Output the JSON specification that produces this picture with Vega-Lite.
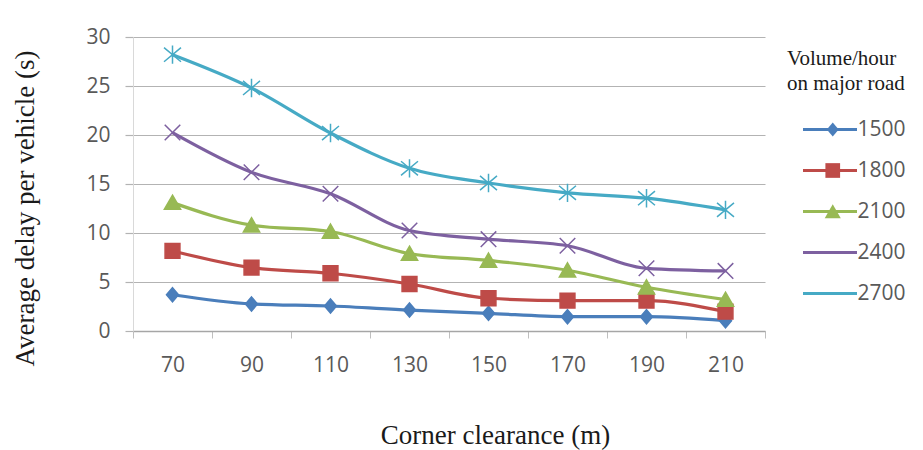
{
  "$schema": "https://vega.github.io/schema/vega-lite/v6.json",
  "width": 632,
  "height": 294,
  "autosize": {"type": "none"},
  "padding": {"left": 133, "top": 37, "right": 158, "bottom": 119},
  "background": "white",
  "config": {
    "view": {"stroke": null},
    "font": "Open Sans",
    "legend": {"titleFont": "Liberation Serif", "titleFontWeight": "normal", "titleFontSize": 21}
  },
  "data": {
    "values": [
      {"clearance": 70, "volume": "1500", "delay": 3.7},
      {"clearance": 90, "volume": "1500", "delay": 2.76},
      {"clearance": 110, "volume": "1500", "delay": 2.55},
      {"clearance": 130, "volume": "1500", "delay": 2.14},
      {"clearance": 150, "volume": "1500", "delay": 1.8},
      {"clearance": 170, "volume": "1500", "delay": 1.46},
      {"clearance": 190, "volume": "1500", "delay": 1.46},
      {"clearance": 210, "volume": "1500", "delay": 1.05},
      {"clearance": 70, "volume": "1800", "delay": 8.17},
      {"clearance": 90, "volume": "1800", "delay": 6.47},
      {"clearance": 110, "volume": "1800", "delay": 5.89},
      {"clearance": 130, "volume": "1800", "delay": 4.8},
      {"clearance": 150, "volume": "1800", "delay": 3.34},
      {"clearance": 170, "volume": "1800", "delay": 3.1},
      {"clearance": 190, "volume": "1800", "delay": 3.1},
      {"clearance": 210, "volume": "1800", "delay": 1.97},
      {"clearance": 70, "volume": "2100", "delay": 13.1},
      {"clearance": 90, "volume": "2100", "delay": 10.8},
      {"clearance": 110, "volume": "2100", "delay": 10.15},
      {"clearance": 130, "volume": "2100", "delay": 7.9},
      {"clearance": 150, "volume": "2100", "delay": 7.2},
      {"clearance": 170, "volume": "2100", "delay": 6.2},
      {"clearance": 190, "volume": "2100", "delay": 4.46},
      {"clearance": 210, "volume": "2100", "delay": 3.2},
      {"clearance": 70, "volume": "2400", "delay": 20.25},
      {"clearance": 90, "volume": "2400", "delay": 16.2},
      {"clearance": 110, "volume": "2400", "delay": 14.0},
      {"clearance": 130, "volume": "2400", "delay": 10.25},
      {"clearance": 150, "volume": "2400", "delay": 9.37},
      {"clearance": 170, "volume": "2400", "delay": 8.7},
      {"clearance": 190, "volume": "2400", "delay": 6.4},
      {"clearance": 210, "volume": "2400", "delay": 6.13},
      {"clearance": 70, "volume": "2700", "delay": 28.2},
      {"clearance": 90, "volume": "2700", "delay": 24.8},
      {"clearance": 110, "volume": "2700", "delay": 20.2},
      {"clearance": 130, "volume": "2700", "delay": 16.6},
      {"clearance": 150, "volume": "2700", "delay": 15.1},
      {"clearance": 170, "volume": "2700", "delay": 14.1},
      {"clearance": 190, "volume": "2700", "delay": 13.55},
      {"clearance": 210, "volume": "2700", "delay": 12.36}
    ]
  },
  "encoding": {
    "x": {
      "field": "clearance",
      "type": "ordinal",
      "bandPosition": 0.5,
      "scale": {"type": "band", "paddingInner": 0, "paddingOuter": 0},
      "axis": {
        "labelAngle": 0,
        "tickBand": "extent",
        "ticks": true,
        "tickSize": 7,
        "tickColor": "#bfbfbf",
        "domainColor": "#a6a6a6",
        "domainWidth": 1.5,
        "grid": false,
        "labelFont": "Open Sans",
        "labelFontSize": 21,
        "labelColor": "#595959",
        "labelPadding": 16,
        "title": "Corner clearance (m)",
        "titleFont": "Liberation Serif",
        "titleFontSize": 27,
        "titleFontWeight": "normal",
        "titleColor": "#1a1a1a",
        "titleX": 362,
        "titleY": 112,
        "titleAlign": "center",
        "titleBaseline": "alphabetic"
      }
    },
    "y": {
      "field": "delay",
      "type": "quantitative",
      "scale": {"domain": [0, 30], "nice": false},
      "axis": {
        "values": [0, 5, 10, 15, 20, 25, 30],
        "grid": true,
        "gridColor": "#b3b3b3",
        "gridWidth": 1.2,
        "tickSize": 8,
        "tickColor": "#b3b3b3",
        "tickWidth": 1.2,
        "domainColor": "#d9d9d9",
        "labelFont": "Open Sans",
        "labelFontSize": 21,
        "labelColor": "#595959",
        "labelPadding": 15,
        "title": "Average delay per vehicle (s)",
        "titleFont": "Liberation Serif",
        "titleFontSize": 27,
        "titleFontWeight": "normal",
        "titleColor": "#1a1a1a",
        "titleAngle": -90,
        "titleX": -100,
        "titleY": 171,
        "titleAlign": "center",
        "titleBaseline": "alphabetic"
      }
    }
  },
  "layer": [
    {
      "mark": {"type": "line", "strokeWidth": 3.2, "interpolate": "monotone"},
      "encoding": {
        "color": {
          "field": "volume",
          "type": "nominal",
          "scale": {
            "domain": ["1500", "1800", "2100", "2400", "2700"],
            "range": ["#4a7ebb", "#be4b48", "#98b954", "#7d60a0", "#46aac5"]
          },
          "legend": {
            "orient": "none",
            "legendX": 654,
            "legendY": 11,
            "padding": 0,
            "title": ["Volume/hour", "on major road"],
            "titleFont": "Liberation Serif",
            "titleFontSize": 21,
            "titleFontWeight": "normal",
            "titleColor": "#1a1a1a",
            "titleLineHeight": 25,
            "titleAnchor": "start",
            "titlePadding": 25,
            "symbolType": "M-3,0L3,0",
            "symbolSize": 324,
            "symbolStrokeWidth": 3,
            "symbolOffset": 32.5,
            "labelOffset": 17,
            "labelFont": "Open Sans",
            "labelFontSize": 21,
            "labelColor": "#595959",
            "rowPadding": 19,
            "encode": {
              "symbols": {
                "update": {
                  "stroke": {"scale": "color", "field": "value"},
                  "strokeWidth": {"value": 3},
                  "fill": {"value": "transparent"}
                }
              }
            }
          }
        }
      }
    },
    {
      "mark": {"type": "point", "filled": true, "opacity": 1, "size": 200, "strokeWidth": 1.5},
      "encoding": {
        "color": {
          "field": "volume",
          "type": "nominal",
          "legend": {
            "orient": "none",
            "legendX": 654,
            "legendY": 11,
            "padding": 0,
            "title": ["Volume/hour", "on major road"],
            "titleFont": "Liberation Serif",
            "titleFontSize": 21,
            "titleFontWeight": "normal",
            "titleColor": "transparent",
            "titleLineHeight": 25,
            "titleAnchor": "start",
            "titlePadding": 25,
            "symbolSize": 196,
            "symbolStrokeWidth": 1.5,
            "symbolOffset": 35.25,
            "labelOffset": 27.5,
            "labelFont": "Open Sans",
            "labelFontSize": 21,
            "labelColor": "transparent",
            "labelExpr": "''",
            "rowPadding": 19,
            "encode": {
              "symbols": {
                "update": {
                  "stroke": {"scale": "color", "field": "value"},
                  "fill": {"scale": "color", "field": "value"},
                  "strokeWidth": {"value": 1.5},
                  "opacity": {"value": 1}
                }
              }
            }
          }
        },
        "shape": {
          "field": "volume",
          "type": "nominal",
          "scale": {
            "domain": ["1500", "1800", "2100", "2400", "2700"],
            "range": [
              "M0,-1L0.85,0L0,1L-0.85,0Z",
              "M-1.05,-1.05L1.05,-1.05L1.05,1.05L-1.05,1.05Z",
              "M0,-1.05L1.15,0.95L-1.15,0.95Z",
              "M-1.1,-1.1L1.1,1.1M-1.1,1.1L1.1,-1.1",
              "M-1.2,-1L1.2,1M-1.2,1L1.2,-1M0,-1.3L0,1.3"
            ]
          }
        },
        "stroke": {
          "field": "volume",
          "type": "nominal",
          "scale": {
            "domain": ["1500", "1800", "2100", "2400", "2700"],
            "range": ["#4a7ebb", "#be4b48", "#98b954", "#7d60a0", "#46aac5"]
          },
          "legend": null
        }
      }
    }
  ],
  "resolve": {"legend": {"color": "independent", "shape": "independent"}}
}
